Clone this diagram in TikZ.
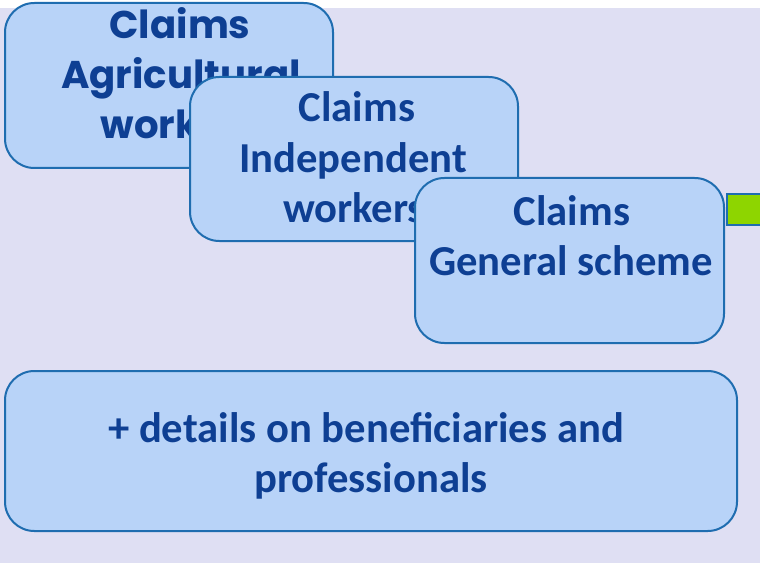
\documentclass[tikz,border=0pt]{standalone}
\usepackage{fontspec}
\setmainfont{Carlito}
\newfontfamily\gothic{Poppins}
\definecolor{bgc}{HTML}{DFDFF3}
\definecolor{boxfill}{HTML}{B8D3F8}
\definecolor{boxline}{HTML}{1F6DB0}
\definecolor{txt}{HTML}{0E3F93}
\definecolor{grn}{HTML}{8ED500}
\tikzset{
  box/.style={draw=boxline, fill=boxfill, line width=1.5pt, rounded corners=22pt, inner sep=0pt},
  lbl/.style={anchor=base, inner sep=0pt, text=txt, font=\fontsize{32}{37.5}\selectfont\bfseries},
  glbl/.style={anchor=base, inner sep=0pt, text=txt, font=\gothic\fontsize{29}{37.5}\selectfont\bfseries},
}
\begin{document}
\begin{tikzpicture}[x=0.75pt,y=-0.75pt]
\useasboundingbox (0,0) rectangle (760,563);
\clip (0,0) rectangle (760,563);
\fill[white] (0,0) rectangle (760,563);
\fill[bgc] (0,8) rectangle (760,563);
% box A
\node[box, minimum width=246pt, minimum height=123.75pt] (A) at (169,85.5) {};
\node[glbl] (a1) at (180,39) {Claims};
\node[glbl] (a2) at (181,89) {Agricultural};
\node[glbl] (a3) at (181,139) {workers};
% box B
\node[box, minimum width=246pt, minimum height=123pt] (B) at (354,159) {};
\node[lbl] (b1) at (357,122) {Claims};
\node[lbl] (b2) at (353,172) {Independent};
\node[lbl] (b3) at (354,222) {workers};
% box C
\node[box, minimum width=231.75pt, minimum height=123.75pt] (C) at (569.5,260.5) {};
\node[lbl] (c1) at (572,225) {Claims};
\node[lbl] (c2) at (571,275) {General scheme};
% green tab
\node[draw=boxline, fill=grn, line width=1.5pt, minimum width=33pt, minimum height=23.25pt, inner sep=0pt] (G) at (749,209.5) {};
% box D
\node[box, minimum width=549pt, minimum height=120pt] (D) at (371,451) {};
\node[lbl] (d1) at (366,442) {+ details on beneficiaries and};
\node[lbl] (d2) at (371,492) {professionals};
\end{tikzpicture}
\end{document}
